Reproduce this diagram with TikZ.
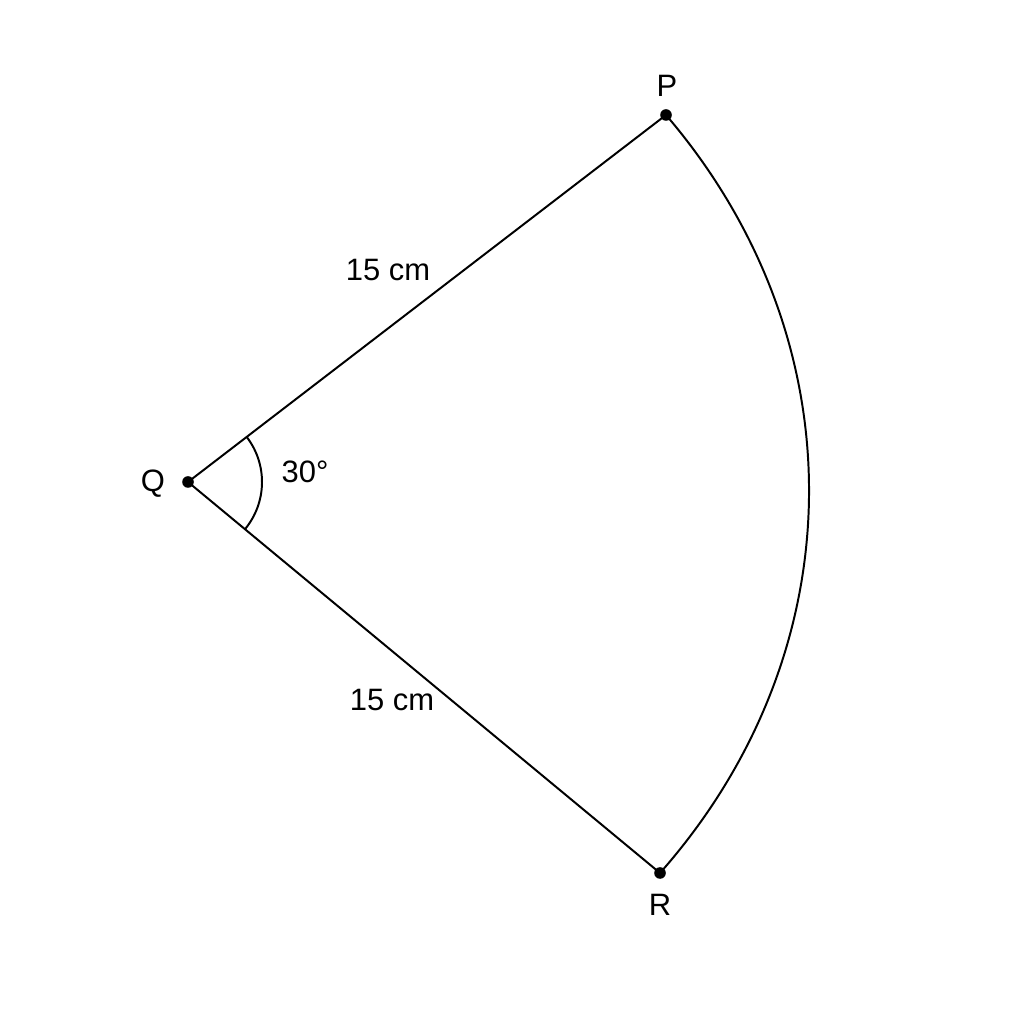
\documentclass[tikz,border=0pt]{standalone}
\usepackage{fontspec}
\setmainfont{Liberation Sans}
\begin{document}
\begin{tikzpicture}[x=0.025cm,y=0.025cm,
  lbl/.style={font=\fontsize{22}{26}\selectfont, inner sep=0pt},
  pt/.style={circle, fill=black, inner sep=0pt, minimum size=0.29cm},
  ln/.style={line width=1.4pt}]
\useasboundingbox[fill=white] (0,0) rectangle (1024,1024);
\node[pt] (Q) at (188,542) {};
\node[pt] (P) at (666,909) {};
\node[pt] (R) at (660,151) {};
\draw[ln] (Q.center) -- (P.center);
\draw[ln] (Q.center) -- (R.center);
\draw[ln] (P.center) to[bend left=41, looseness=1.0] (R.center);
\draw[ln] ([shift={(37.5:74)}]Q.center) arc[start angle=37.5, end angle=-39.6, radius=74];
\node[lbl] (lQ) at (153,540) {Q};
\node[lbl] (lP) at (667,938) {P};
\node[lbl] (lR) at (660,119) {R};
\node[lbl] (l1) at (388,754) {15 cm};
\node[lbl] (l2) at (392,324) {15 cm};
\node[lbl] (la) at (305,552) {30°};
\end{tikzpicture}
\end{document}
